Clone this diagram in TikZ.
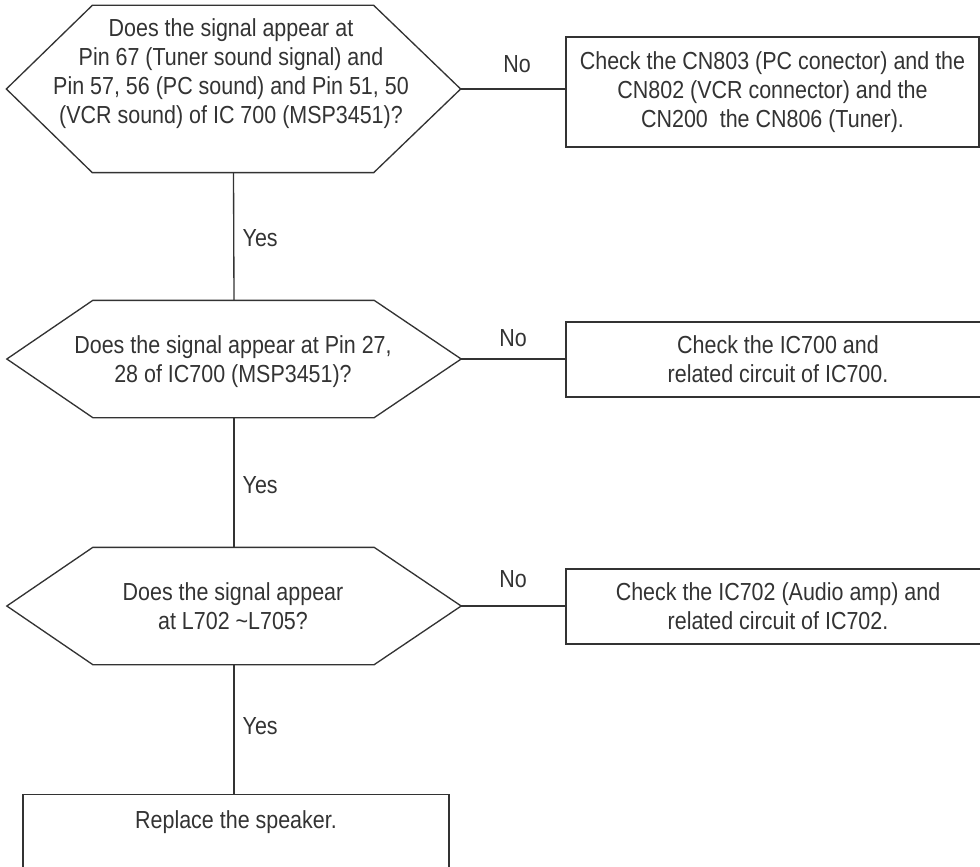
\documentclass[tikz,border=0pt]{standalone}
\usepackage{fontspec}
\setmainfont{Liberation Sans}[FakeStretch=0.87]
\usetikzlibrary{calc}
\definecolor{ink}{RGB}{51,51,51}
\begin{document}
\begin{tikzpicture}[x=0.75pt,y=-0.75pt, line width=1pt, color=ink,
  txt/.style={font=\fontsize{18.5}{21.75}\selectfont, text=ink, align=center, inner sep=0pt},
  hexbox/.style={inner sep=0pt, minimum width=339.75pt},
  boxnode/.style={draw=ink, line width=1pt, txt, inner sep=0pt},
  lbl/.style={txt}]
\useasboundingbox (0,0) rectangle (980,866);

% decisions (outline regions)
\node[hexbox, minimum height=124.5pt] (d1) at (233.5,89) {};
\node[hexbox, minimum height=87pt] (d2) at (234,359) {};
\node[hexbox, minimum height=87pt] (d3) at (234,606) {};

\foreach \d in {d1,d2,d3}{
  \draw[line join=miter] (\d.west) -- ($(\d.north west)+(86,0)$) -- ($(\d.north east)+(-87,0)$)
    -- (\d.east) -- ($(\d.south east)+(-87,0)$) -- ($(\d.south west)+(86,0)$) -- cycle;
}

\node[txt] (d1t) at (231,73.5) {Does the signal appear at\\Pin 67 (Tuner sound signal) and\\Pin 57, 56 (PC sound) and Pin 51, 50\\(VCR sound) of IC 700 (MSP3451)?};
\node[txt] (d2t) at (233,361.5) {Does the signal appear at Pin 27,\\28 of IC700 (MSP3451)?};
\node[txt] (d3t) at (233,606.5) {Does the signal appear\\at L702 \textasciitilde L705?};

% action boxes
\node[boxnode, minimum width=309.75pt, minimum height=82.5pt] (b1) at (772.5,92)
  {Check the CN803 (PC conector) and the\\CN802 (VCR connector) and the\\CN200\ \ the CN806 (Tuner).};
\node[boxnode, minimum width=318pt, minimum height=56.25pt] (b2) at (778,359.5)
  {Check the IC700 and\\related circuit of IC700.};
\node[boxnode, minimum width=318pt, minimum height=56.25pt] (b3) at (778,606.5)
  {Check the IC702 (Audio amp) and\\related circuit of IC702.};
\node[boxnode, anchor=north, minimum width=319.5pt, inner ysep=12.5pt,
  text height=12.5pt, text depth=60pt] (sp) at (236,794) {Replace the speaker.};

% connectors
\draw (d1.south) -- (d2.north);
\draw (d2.south) -- (d3.north);
\draw (d3.south) -- (d3.south |- sp.north);
\draw (d1.east) -- (d1.east -| b1.west);
\draw (d2.east) -- (d2.east -| b2.west);
\draw (d3.east) -- (d3.east -| b3.west);

% labels
\node[lbl, anchor=west] (y1) at (242,238) {Yes};
\node[lbl, anchor=west] (y2) at (242,485) {Yes};
\node[lbl, anchor=west] (y3) at (242,726) {Yes};
\node[lbl] (n1) at (517,64) {No};
\node[lbl] (n2) at (513,338) {No};
\node[lbl] (n3) at (513,579) {No};
\end{tikzpicture}
\end{document}
